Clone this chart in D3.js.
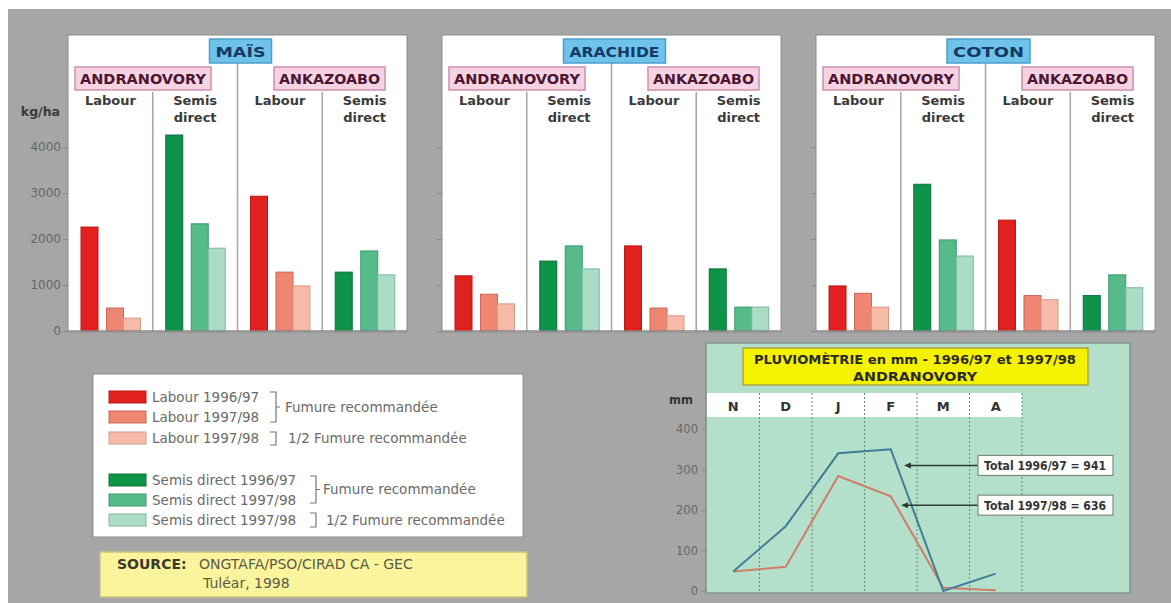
<!DOCTYPE html>
<html><head><meta charset="utf-8">
<script src="https://cdn.jsdelivr.net/npm/d3@7/dist/d3.min.js"></script>
<style>
html,body{margin:0;padding:0;background:#fff;}
svg{display:block;}
text{font-family:"DejaVu Sans",sans-serif;}
</style></head>
<body>
<svg id="chart" width="1171" height="603"></svg>
<script>
// ---------- DATA ----------
const crops = ["MAÏS", "ARACHIDE", "COTON"];
const sites = ["ANDRANOVORY", "ANKAZOABO"];
const groups = ["Labour", "Semis direct", "Labour", "Semis direct"];
// per group: [1996/97, 1997/98, 1997/98 1/2 fumure]
const maisValues     = [[2260, 500, 280], [4260, 2330, 1800], [2930, 1280, 980], [1280, 1740, 1220]];
const arachideValues = [[1200, 800, 590], [1520, 1850, 1350], [1850, 500, 330], [1350, 520, 520]];
const cotonValues    = [[980, 820, 520], [3190, 1980, 1630], [2410, 770, 680], [770, 1220, 940]];
const yTicks = [0, 1000, 2000, 3000, 4000];

const legendLabels = ["Labour 1996/97", "Labour 1997/98", "Labour 1997/98",
                      "Semis direct 1996/97", "Semis direct 1997/98", "Semis direct 1997/98"];
const bracketLabels = ["Fumure recommandée", "1/2 Fumure recommandée"];

const months = ["N", "D", "J", "F", "M", "A"];
const rain9697 = [48, 160, 340, 350, 0, 43];
const rain9798 = [48, 60, 284, 234, 8, 2];
const rainTicks = [0, 100, 200, 300, 400];
const rainTotals = ["Total 1996/97 = 941", "Total 1997/98 = 636"];
const rainTotalLevels = [310, 212];

// ---------- STYLE ----------
const reds   = ["#e0211f", "#ef8672", "#f6bba8"];
const redsS  = ["#b81a18", "#c96856", "#d49a88"];
const greens = ["#0e9448", "#57ba8b", "#abdcc5"];
const greensS= ["#0a7239", "#3a9870", "#7cb7a0"];

const svg = d3.select("#chart");
svg.append("rect").attr("width", 1171).attr("height", 603).attr("fill", "#ffffff");
svg.append("rect").attr("x", 8).attr("y", 9).attr("width", 1163).attr("height", 594).attr("fill", "#a6a6a6");

// ---------- BAR PANELS ----------
const cropValues = [maisValues, arachideValues, cotonValues];
const xCrop = d3.scaleBand().domain(crops).range([68, 1155]).paddingInner(0.0936);
const y = d3.scaleLinear().domain([0, 4000]).range([331, 147]);
const panelTop = 35;

crops.forEach((crop, ci) => {
  const x0 = xCrop(crop), w = xCrop.bandwidth();
  const g = svg.append("g").attr("transform", `translate(${x0},0)`);
  g.append("rect").attr("x", 0).attr("y", panelTop).attr("width", w).attr("height", y(0) - panelTop + 1)
    .attr("fill", "#fff").attr("stroke", "#8c8c8c").attr("stroke-width", 1);

  const xg = d3.scaleBand().domain(d3.range(groups.length)).range([0, w]);
  const xb = d3.scaleLinear().domain([0, 3.5]).range([13, 13 + 3.5 * 17]);
  const slots = [0, 1.5, 2.5];

  // dividers
  [1, 2, 3].forEach(i => {
    g.append("line").attr("x1", xg(i)).attr("x2", xg(i))
      .attr("y1", i === 2 ? 63 : 92).attr("y2", y(0))
      .attr("stroke", "#a9a9a9").attr("stroke-width", 1.6);
  });

  // bars
  cropValues[ci].forEach((vals, gi) => {
    const isLabour = groups[gi] === "Labour";
    const fills = isLabour ? reds : greens, strokes = isLabour ? redsS : greensS;
    g.selectAll(null).data(vals).enter().append("rect")
      .attr("x", (d, k) => xg(gi) + xb(slots[k]))
      .attr("y", d => y(d))
      .attr("width", 17)
      .attr("height", d => y(0) - y(d))
      .attr("fill", (d, k) => fills[k])
      .attr("stroke", (d, k) => strokes[k]).attr("stroke-width", 1);

    // group label
    const cx = xg(gi) + xg.bandwidth() / 2;
    const words = isLabour ? ["Labour"] : ["Semis", "direct"];
    words.forEach((wd, wi) => {
      g.append("text").attr("x", cx).attr("y", 105 + wi * 17).attr("text-anchor", "middle")
        .attr("font-size", 13).attr("font-weight", "bold").attr("fill", "#3a3a3a").text(wd);
    });
  });

  // baseline
  g.append("line").attr("x1", 0).attr("x2", w).attr("y1", y(0)).attr("y2", y(0))
    .attr("stroke", "#8a8a8a").attr("stroke-width", 1.5);

  // site boxes
  const siteBoxes = [[7, 136], [206, 111]];
  sites.forEach((s, si) => {
    const [bx, bw] = siteBoxes[si];
    g.append("rect").attr("x", bx).attr("y", 67).attr("width", bw).attr("height", 23)
      .attr("fill", "#f6d3e2").attr("stroke", "#cf8fb0").attr("stroke-width", 1.5);
    g.append("text").attr("x", bx + bw / 2).attr("y", 84).attr("text-anchor", "middle")
      .attr("font-size", 14).attr("font-weight", "bold").attr("fill", "#4b1633")
      .attr("textLength", bw - 10).attr("lengthAdjust", "spacingAndGlyphs").text(s);
  });

  // crop title box
  const tw = [62, 102, 83][ci];
  const tcx = xg(2) + 3;
  g.append("rect").attr("x", tcx - tw / 2).attr("y", 39).attr("width", tw).attr("height", 24)
    .attr("fill", "#6fc2ea").attr("stroke", "#4c9fcb").attr("stroke-width", 1.5);
  g.append("text").attr("x", tcx).attr("y", 57).attr("text-anchor", "middle")
    .attr("font-size", 14).attr("font-weight", "bold").attr("fill", "#163a66")
    .attr("textLength", tw - 12).attr("lengthAdjust", "spacingAndGlyphs").text(crop);

  // y axis ticks
  const ax = g.append("g").call(d3.axisLeft(y).tickValues(yTicks).tickSize(5).tickFormat(ci === 0 ? d3.format("d") : ""));
  ax.select(".domain").remove();
  ax.selectAll(".tick line").attr("stroke", "#8a8a8a");
  ax.selectAll(".tick text").attr("font-family", "DejaVu Sans").attr("font-size", 12).attr("fill", "#666").attr("x", -7);
});

svg.append("text").attr("x", 60).attr("y", 116).attr("text-anchor", "end")
  .attr("font-size", 12.5).attr("font-weight", "bold").attr("fill", "#3a3a3a").text("kg/ha");

// ---------- LEGEND ----------
const lg = svg.append("g");
lg.append("rect").attr("x", 93).attr("y", 374).attr("width", 430).attr("height", 163)
  .attr("fill", "#fff").attr("stroke", "#8c8c8c");
const rowY = [397, 417, 438, 480, 500, 520];
const legFill = reds.concat(greens), legStroke = redsS.concat(greensS);
legendLabels.forEach((lab, i) => {
  lg.append("rect").attr("x", 109).attr("y", rowY[i] - 6).attr("width", 37).attr("height", 12)
    .attr("fill", legFill[i]).attr("stroke", legStroke[i]);
  lg.append("text").attr("x", 152).attr("y", rowY[i] + 5).attr("font-size", 13.5).attr("fill", "#6a6a6a").text(lab);
});
function bracket(x, y1, y2, mid) {
  let p = `M${x - 6},${y1}H${x}V${y2}H${x - 6}`;
  if (mid) p += `M${x},${(y1 + y2) / 2}H${x + 4}`;
  lg.append("path").attr("d", p).attr("fill", "none").attr("stroke", "#777").attr("stroke-width", 1.2);
}
bracket(276, 392, 422, true);
bracket(276, 432, 445, false);
bracket(316, 476, 503, true);
bracket(316, 513, 527, false);
[[285, 412, 0], [288, 443, 1], [323, 494, 0], [326, 525, 1]].forEach(([x, yy, k]) => {
  lg.append("text").attr("x", x).attr("y", yy).attr("font-size", 13.5).attr("fill", "#6a6a6a").text(bracketLabels[k]);
});

// ---------- SOURCE ----------
svg.append("rect").attr("x", 100).attr("y", 552).attr("width", 427).attr("height", 45)
  .attr("fill", "#faf59c").attr("stroke", "#c9c27a").attr("stroke-width", 1.5);
svg.append("text").attr("x", 117).attr("y", 569).attr("font-size", 14).attr("font-weight", "bold").attr("fill", "#3a3a2a").text("SOURCE:");
svg.append("text").attr("x", 199).attr("y", 569).attr("font-size", 14).attr("fill", "#5a5a48").text("ONGTAFA/PSO/CIRAD CA - GEC");
svg.append("text").attr("x", 203).attr("y", 588).attr("font-size", 14).attr("fill", "#5a5a48").text("Tuléar, 1998");

// ---------- RAINFALL ----------
const rg = svg.append("g");
rg.append("rect").attr("x", 706).attr("y", 343).attr("width", 424).attr("height", 250)
  .attr("fill", "#b4dfcb").attr("stroke", "#7f948a").attr("stroke-width", 1.5);
const xm = d3.scaleBand().domain(months).range([707, 1022]);
const yr = d3.scaleLinear().domain([0, 400]).range([591, 429]);

// title
rg.append("rect").attr("x", 743).attr("y", 348).attr("width", 345).attr("height", 37)
  .attr("fill", "#f5f200").attr("stroke", "#a9a64a").attr("stroke-width", 1.5);
rg.append("text").attr("x", 915).attr("y", 364).attr("text-anchor", "middle")
  .attr("font-family", "Liberation Sans").attr("font-size", 13).attr("font-weight", "bold").attr("fill", "#2a2a2a")
  .attr("textLength", 322).attr("lengthAdjust", "spacingAndGlyphs").text("PLUVIOMÈTRIE en mm - 1996/97 et 1997/98");
rg.append("text").attr("x", 915).attr("y", 381).attr("text-anchor", "middle")
  .attr("font-family", "Liberation Sans").attr("font-size", 13).attr("font-weight", "bold").attr("fill", "#2a2a2a")
  .attr("textLength", 124).attr("lengthAdjust", "spacingAndGlyphs").text("ANDRANOVORY");

// month header
rg.append("rect").attr("x", 707).attr("y", 393).attr("width", 315).attr("height", 24).attr("fill", "#fff");
months.forEach(m => {
  rg.append("text").attr("x", xm(m) + xm.bandwidth() / 2).attr("y", 411).attr("text-anchor", "middle")
    .attr("font-size", 13).attr("font-weight", "bold").attr("fill", "#333").text(m);
});
// dashed gridlines
months.forEach(m => {
  const gx = xm(m) + xm.bandwidth();
  rg.append("line").attr("x1", gx).attr("x2", gx).attr("y1", 393).attr("y2", 592)
    .attr("stroke", "#5f8f76").attr("stroke-width", 1).attr("stroke-dasharray", "2,2");
});

// y axis
const rax = rg.append("g").attr("transform", "translate(706,0)")
  .call(d3.axisLeft(yr).tickValues(rainTicks).tickSize(4));
rax.select(".domain").remove();
rax.selectAll(".tick line").attr("stroke", "#888");
rax.selectAll(".tick text").attr("font-family", "DejaVu Sans").attr("font-size", 11.5).attr("fill", "#666").attr("x", -8);
rg.append("text").attr("x", 693).attr("y", 404).attr("text-anchor", "end")
  .attr("font-size", 11.5).attr("font-weight", "bold").attr("fill", "#333").text("mm");

// lines
const line = d3.line().x((d, i) => xm(months[i]) + xm.bandwidth() / 2).y(d => yr(d));
rg.append("path").datum(rain9798).attr("d", line).attr("fill", "none").attr("stroke", "#cf7d69").attr("stroke-width", 2);
rg.append("path").datum(rain9697).attr("d", line).attr("fill", "none").attr("stroke", "#3f7d98").attr("stroke-width", 2);

// totals annotations
rainTotals.forEach((t, i) => {
  const yy = yr(rainTotalLevels[i]);
  rg.append("line").attr("x1", 978).attr("x2", 907 - i * 3).attr("y1", yy).attr("y2", yy)
    .attr("stroke", "#2e3a34").attr("stroke-width", 1.5);
  const tx = 907 - i * 3;
  rg.append("path").attr("d", `M${tx - 3},${yy}L${tx + 4},${yy - 3}L${tx + 4},${yy + 3}Z`).attr("fill", "#2e3a34");
  rg.append("rect").attr("x", 978).attr("y", yy - 10).attr("width", 135).attr("height", 20)
    .attr("fill", "#fff").attr("stroke", "#7d8a84").attr("stroke-width", 1.2);
  rg.append("text").attr("x", 1045).attr("y", yy + 5).attr("text-anchor", "middle")
    .attr("font-family", "Liberation Sans").attr("font-size", 12).attr("font-weight", "bold").attr("fill", "#333")
    .attr("textLength", 122).attr("lengthAdjust", "spacingAndGlyphs").text(t);
});
</script>
</body></html>
